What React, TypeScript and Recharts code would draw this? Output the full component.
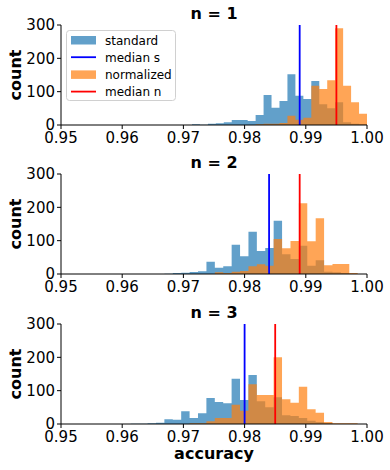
import React from 'react';
import { ComposedChart, Area, XAxis, YAxis, ReferenceLine } from 'recharts';

const FONT = '"DejaVu Sans", Verdana, sans-serif';
const STD_COLOR = '#1f77b4';
const NORM_COLOR = '#ff7f0e';

const xTicks = [0.95, 0.96, 0.97, 0.98, 0.99, 1.0];
const yTicks = [0, 100, 200, 300];
const panelTitles = ['n = 1', 'n = 2', 'n = 3'];

// histogram bins per panel: left edge of the first bin and the bin width
const binStart = [0.9714, 0.9669, 0.9614];
const binWidth = [0.0013, 0.001373, 0.001373];

const standard1 = [2, 1, 4, 5, 8, 15, 15, 12, 30, 90, 52, 72, 152, 88, 78, 132, 62, 50, 68, 8, 4, 2];
const normalized1 = [0, 0, 0, 0, 0, 0, 0, 0, 2, 4, 4, 6, 28, 16, 22, 118, 108, 134, 290, 118, 68, 34];

const standard2 = [1, 3, 4, 6, 8, 37, 19, 23, 88, 53, 127, 69, 78, 160, 59, 45, 85, 25, 41, 7, 5, 3, 0];
const normalized2 = [0, 0, 0, 0, 0, 0, 5, 3, 7, 9, 23, 29, 25, 105, 77, 99, 212, 98, 167, 26, 30, 30, 3];

const standard3 = [1, 1, 2, 4, 14, 13, 38, 18, 32, 78, 66, 62, 136, 72, 147, 68, 50, 80, 26, 24, 18, 10, 6, 3, 0, 0, 0];
const normalized3 = [0, 0, 0, 0, 0, 0, 0, 2, 2, 8, 18, 18, 58, 40, 119, 87, 87, 200, 74, 64, 112, 44, 34, 6, 2, 2, 2];

const medianStandard = [0.989, 0.984, 0.98];
const medianNormalized = [0.995, 0.989, 0.985];

const standardCounts = [standard1, standard2, standard3];
const normalizedCounts = [normalized1, normalized2, normalized3];

// one row per bin edge, the last edge repeats the last bin so stepAfter closes the bar
function histRows(start: number, width: number, s: number[], n: number[]) {
  const rows = s.map((v, i) => ({ x: start + i * width, standard: v, normalized: n[i] }));
  rows.push({ x: start + s.length * width, standard: s[s.length - 1], normalized: n[n.length - 1] });
  return rows;
}

const panelTops = [0, 149, 299];
const PLOT_TOP = 25;
const PLOT_H = 100;

const tickStyle = { fill: '#000', fontSize: 15, fontFamily: FONT };

const Panel = ({ idx }: { idx: number }) => {
  const rows = histRows(binStart[idx], binWidth[idx], standardCounts[idx], normalizedCounts[idx]);
  return (
    <div style={{ position: 'absolute', left: 0, top: panelTops[idx] }}>
      <ComposedChart
        width={390}
        height={PLOT_TOP + PLOT_H + 25}
        data={rows}
        margin={{ top: PLOT_TOP, right: 23, bottom: 0, left: 0 }}
      >
        <XAxis
          dataKey="x"
          type="number"
          domain={[0.95, 1.0]}
          ticks={xTicks}
          interval={0}
          allowDataOverflow
          tickFormatter={(v: number) => v.toFixed(2)}
          height={25}
          tickSize={4}
          tickMargin={3}
          stroke="#000"
          tick={tickStyle}
        />
        <XAxis xAxisId="top" orientation="top" type="number" domain={[0.95, 1.0]} tick={false} tickLine={false} height={0} stroke="#000" />
        <YAxis
          type="number"
          domain={[0, 300]}
          ticks={yTicks}
          interval={0}
          width={61}
          tickSize={4}
          tickMargin={2}
          stroke="#000"
          tick={tickStyle}
        />
        <YAxis yAxisId="right" orientation="right" type="number" domain={[0, 300]} tick={false} tickLine={false} width={0} stroke="#000" />
        <Area
          type="stepAfter"
          dataKey="standard"
          fill={STD_COLOR}
          fillOpacity={0.7}
          stroke="none"
          dot={false}
          activeDot={false}
          isAnimationActive={false}
        />
        <Area
          type="stepAfter"
          dataKey="normalized"
          fill={NORM_COLOR}
          fillOpacity={0.7}
          stroke="none"
          dot={false}
          activeDot={false}
          isAnimationActive={false}
        />
        <ReferenceLine x={medianStandard[idx]} stroke="#0000ff" strokeWidth={1.8} />
        <ReferenceLine x={medianNormalized[idx]} stroke="#ff0000" strokeWidth={1.8} />
      </ComposedChart>
    </div>
  );
};

const legendItems = [
  { label: 'standard', kind: 'patch', color: STD_COLOR },
  { label: 'median s', kind: 'line', color: '#0000ff' },
  { label: 'normalized', kind: 'patch', color: NORM_COLOR },
  { label: 'median n', kind: 'line', color: '#ff0000' },
];

const Overlay = () => (
  <svg width={390} height={470} style={{ position: 'absolute', left: 0, top: 0, pointerEvents: 'none' }}>
    {panelTitles.map((t, i) => (
      <text key={t} x={214} y={panelTops[i] + PLOT_TOP - 6} textAnchor="middle" fontFamily={FONT} fontSize={16} fontWeight="bold">
        {t}
      </text>
    ))}
    {panelTops.map((top, i) => {
      const cy = top + PLOT_TOP + PLOT_H / 2;
      return (
        <text key={i} x={21} y={cy} transform={`rotate(-90 21 ${cy})`} textAnchor="middle" fontFamily={FONT} fontSize={16} fontWeight="bold">
          count
        </text>
      );
    })}
    <text x={214} y={459} textAnchor="middle" fontFamily={FONT} fontSize={16} fontWeight="bold">
      accuracy
    </text>
    <g>
      <rect x={66.5} y={30.5} width={109} height={70} rx={3} fill="#fff" fillOpacity={0.8} stroke="#d0d0d0" />
      {legendItems.map((it, i) => {
        const cy = 40 + i * 17.2;
        return (
          <g key={it.label}>
            {it.kind === 'patch' ? (
              <rect x={71} y={cy - 4} width={25} height={8.5} fill={it.color} fillOpacity={0.7} />
            ) : (
              <line x1={71} x2={96} y1={cy} y2={cy} stroke={it.color} strokeWidth={1.8} />
            )}
            <text x={105} y={cy + 4.5} fontFamily={FONT} fontSize={12} fill="#000">
              {it.label}
            </text>
          </g>
        );
      })}
    </g>
  </svg>
);

export default function App() {
  return (
    <div style={{ position: 'absolute', left: 0, top: 0, width: 390, height: 470, background: '#fff' }}>
      {[0, 1, 2].map((i) => (
        <Panel key={i} idx={i} />
      ))}
      <Overlay />
    </div>
  );
}
